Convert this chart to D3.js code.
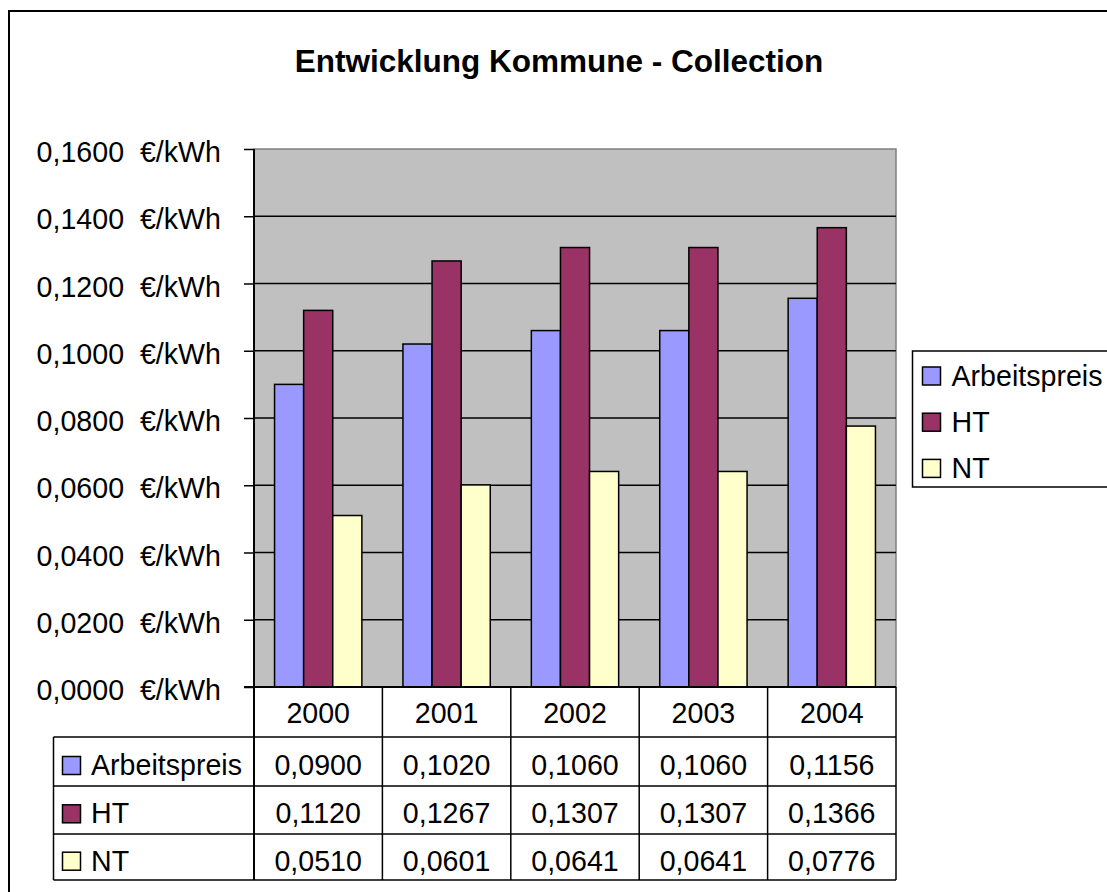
<!DOCTYPE html>
<html>
<head>
<meta charset="utf-8">
<script src="https://cdn.jsdelivr.net/npm/d3@7"></script>
<style>
  body { margin: 0; background: #fff; }
  svg text { font-family: "Liberation Sans", Arial, sans-serif; fill: #000; white-space: pre; }
</style>
</head>
<body>
<div id="chart"></div>
<script>
// DATA
var years = ["2000", "2001", "2002", "2003", "2004"];
var seriesNames = ["Arbeitspreis", "HT", "NT"];
var arbeitspreis = [0.0900, 0.1020, 0.1060, 0.1060, 0.1156];
var ht = [0.1120, 0.1267, 0.1307, 0.1307, 0.1366];
var nt = [0.0510, 0.0601, 0.0641, 0.0641, 0.0776];
var yTicks = [0, 0.02, 0.04, 0.06, 0.08, 0.10, 0.12, 0.14, 0.16];
var colors = ["#9999FF", "#993366", "#FFFFCC"];
var title = "Entwicklung Kommune - Collection";

var seriesValues = [arbeitspreis, ht, nt];
var series = seriesNames.map(function (n, i) {
	return { name: n, color: colors[i], values: seriesValues[i] };
});

// SETUP
var W = 1107, H = 892;
var plot = { left: 254, right: 896, top: 149, bottom: 687 };
var rowEdges = [687, 737, 786, 834, 880]; // header + 3 table rows
var tableLeft = 53.5;
var fs = 28.6;

var svg = d3.select("#chart").append("svg")
	.attr("width", W)
	.attr("height", H);

var loc = d3.formatLocale({ decimal: ",", thousands: ".", grouping: [3], currency: ["", " €"] });
var fmt = loc.format(".4f");

var x0 = d3.scaleBand().domain(years).range([plot.left, plot.right]);
var bw = x0.bandwidth();
var gap = bw * 0.16;
var x1 = d3.scaleBand().domain(seriesNames).range([gap, bw - gap]);
var y = d3.scaleLinear().domain([0, 0.16]).range([plot.bottom, plot.top]);

// outer frame
svg.append("rect")
	.attr("x", 9).attr("y", 11)
	.attr("width", 1200).attr("height", 1000)
	.attr("fill", "#fff")
	.attr("stroke", "#000").attr("stroke-width", 2);

// title
svg.append("text")
	.attr("x", 559).attr("y", 72)
	.attr("text-anchor", "middle")
	.attr("font-size", 31.5)
	.attr("font-weight", "bold")
	.text(title);

// plot area
svg.append("rect")
	.attr("x", plot.left).attr("y", plot.top)
	.attr("width", plot.right - plot.left)
	.attr("height", plot.bottom - plot.top)
	.attr("fill", "#C0C0C0")
	.attr("stroke", "#808080").attr("stroke-width", 1.5);

// gridlines
svg.append("g").selectAll("line")
	.data(yTicks.filter(function (d) { return d > 0 && d < 0.16; }))
	.enter().append("line")
	.attr("x1", plot.left).attr("x2", plot.right)
	.attr("y1", function (d) { return y(d); })
	.attr("y2", function (d) { return y(d); })
	.attr("stroke", "#000").attr("stroke-width", 1.5);

// y axis
var gy = svg.append("g")
	.attr("transform", "translate(" + plot.left + ",0)")
	.call(d3.axisLeft(y)
		.tickValues(yTicks)
		.tickSizeInner(10)
		.tickSizeOuter(0)
		.tickPadding(23)
		.tickFormat(function (d) { return fmt(d) + "  €/kWh"; }));
gy.select(".domain").remove();
gy.attr("font-family", null).attr("font-size", null);
gy.selectAll(".tick line").attr("stroke", "#000").attr("stroke-width", 1.5);
gy.selectAll(".tick text")
	.attr("font-size", fs)
	.attr("dy", "0.44em")
	.attr("xml:space", "preserve");

// bars
var groups = svg.append("g").selectAll("g")
	.data(series)
	.enter().append("g");

groups.selectAll("rect")
	.data(function (s) {
		return s.values.map(function (v, i) { return { name: s.name, color: s.color, year: years[i], value: v }; });
	})
	.enter().append("rect")
	.attr("x", function (d) { return x0(d.year) + x1(d.name); })
	.attr("y", function (d) { return y(d.value); })
	.attr("width", x1.bandwidth())
	.attr("height", function (d) { return y(0) - y(d.value); })
	.attr("fill", function (d) { return d.color; })
	.attr("stroke", "#000").attr("stroke-width", 1.5);

// left axis line
svg.append("line")
	.attr("x1", plot.left).attr("x2", plot.left)
	.attr("y1", plot.top).attr("y2", rowEdges[4])
	.attr("stroke", "#000").attr("stroke-width", 2);

// DATA TABLE
var table = svg.append("g");
table.append("line")
	.attr("x1", plot.left - 10).attr("x2", plot.right)
	.attr("y1", rowEdges[0]).attr("y2", rowEdges[0])
	.attr("stroke", "#000").attr("stroke-width", 2);
table.selectAll(".hline")
	.data(rowEdges.slice(1))
	.enter().append("line")
	.attr("class", "hline")
	.attr("x1", tableLeft).attr("x2", plot.right)
	.attr("y1", function (d) { return d; }).attr("y2", function (d) { return d; })
	.attr("stroke", "#000").attr("stroke-width", 1.5);
table.selectAll(".vline")
	.data(years.map(function (yr) { return x0(yr) + bw; }))
	.enter().append("line")
	.attr("class", "vline")
	.attr("x1", function (d) { return d; }).attr("x2", function (d) { return d; })
	.attr("y1", rowEdges[0]).attr("y2", rowEdges[4])
	.attr("stroke", "#000").attr("stroke-width", 1.5);
table.append("line")
	.attr("x1", tableLeft).attr("x2", tableLeft)
	.attr("y1", rowEdges[1]).attr("y2", rowEdges[4])
	.attr("stroke", "#000").attr("stroke-width", 1.5);

// header years
table.selectAll(".year")
	.data(years)
	.enter().append("text")
	.attr("class", "year")
	.attr("x", function (d) { return x0(d) + bw / 2; })
	.attr("y", rowEdges[0] + 36)
	.attr("text-anchor", "middle")
	.attr("font-size", fs)
	.text(function (d) { return d; });

// rows
var rowBase = [38, 37.3, 36.7];
var rows = table.selectAll(".row")
	.data(series)
	.enter().append("g")
	.attr("class", "row")
	.attr("transform", function (d, i) { return "translate(0," + rowEdges[i + 1] + ")"; });

rows.append("rect")
	.attr("x", 62.5).attr("y", function (d, i) { return rowBase[i] - 18.5; })
	.attr("width", 18).attr("height", 18)
	.attr("fill", function (d) { return d.color; })
	.attr("stroke", "#000").attr("stroke-width", 1.5);

rows.append("text")
	.attr("x", 91)
	.attr("y", function (d, i) { return rowBase[i]; })
	.attr("font-size", fs)
	.text(function (d) { return d.name; });

rows.each(function (s, i) {
	d3.select(this).selectAll(".val")
		.data(s.values)
		.enter().append("text")
		.attr("class", "val")
		.attr("x", function (d, j) { return x0(years[j]) + bw / 2; })
		.attr("y", rowBase[i])
		.attr("text-anchor", "middle")
		.attr("font-size", fs)
		.text(function (d) { return fmt(d); });
});

// LEGEND
var legend = svg.append("g");
legend.append("rect")
	.attr("x", 912.5).attr("y", 351)
	.attr("width", 300).attr("height", 136)
	.attr("fill", "#fff")
	.attr("stroke", "#000").attr("stroke-width", 1.5);

var li = legend.selectAll(".li")
	.data(series)
	.enter().append("g")
	.attr("class", "li")
	.attr("transform", function (d, i) { return "translate(0," + (386 + i * 46.2) + ")"; });
li.append("rect")
	.attr("x", 922.5).attr("y", -19)
	.attr("width", 18).attr("height", 18)
	.attr("fill", function (d) { return d.color; })
	.attr("stroke", "#000").attr("stroke-width", 1.5);
li.append("text")
	.attr("x", 951.5).attr("y", 0)
	.attr("font-size", fs)
	.text(function (d) { return d.name; });
</script>
</body>
</html>
